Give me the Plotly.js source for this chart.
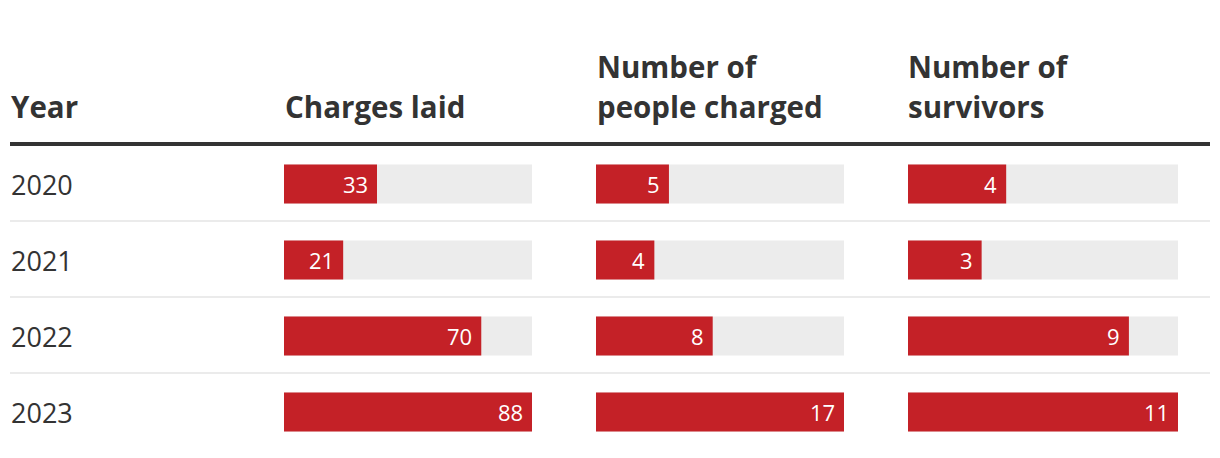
<!DOCTYPE html>
<html>
<head>
<meta charset="utf-8">
<script src="https://cdn.plot.ly/plotly-3.0.1.min.js"></script>
<style>html,body{margin:0;padding:0;background:#fff;}#chart{width:1220px;height:458px;}</style>
</head>
<body>
<div id="chart"></div>
<script>
const years = ["2020", "2021", "2022", "2023"];
const chargesLaid = [33, 21, 70, 88];
const peopleCharged = [5, 4, 8, 17];
const survivors = [4, 3, 9, 11];
const headers = [["Year"], ["Charges laid"], ["Number of", "people charged"], ["Number of", "survivors"]];

const RED = "#c42127", GRAY = "#ececec", INK = "#333333";
const FONT = "'Open Sans', 'Noto Sans', sans-serif";
const W = 1220, H = 458;
const px = v => v / W;
const py = v => 1 - v / H;

const cols = [
  {vals: chargesLaid, ax: "x", dom: [284, 532]},
  {vals: peopleCharged, ax: "x2", dom: [596, 844]},
  {vals: survivors, ax: "x3", dom: [908, 1178]}
];

const traces = [];
const annotations = [];
cols.forEach(c => {
  const mx = Math.max(...c.vals);
  traces.push({type: "bar", orientation: "h", y: years, x: years.map(() => mx),
    xaxis: c.ax, yaxis: "y", marker: {color: GRAY}, width: 0.513, hoverinfo: "skip"});
  traces.push({type: "bar", orientation: "h", y: years, x: c.vals,
    xaxis: c.ax, yaxis: "y", marker: {color: RED}, width: 0.513, hoverinfo: "skip"});
  c.vals.forEach((v, i) => annotations.push({
    xref: c.ax, yref: "y", x: v, y: i, xanchor: "right", yanchor: "middle",
    xshift: -7, yshift: 0, text: String(v), showarrow: false,
    font: {family: FONT, size: 22, color: "#ffffff"}
  }));
});

years.forEach((y, i) => annotations.push({
  xref: "paper", yref: "y", x: px(9), y: i, xanchor: "left", yanchor: "middle",
  text: y, showarrow: false, font: {family: FONT, size: 27, color: INK}
}));

const headerX = [9, 283, 595, 906];
headers.forEach((lines, k) => {
  lines.forEach((t, j) => {
    const cy = lines.length === 1 ? 107 : (j === 0 ? 67 : 106);
    annotations.push({
      xref: "paper", yref: "paper", x: px(headerX[k]), y: py(cy), xanchor: "left", yanchor: "middle",
      text: "<b>" + t + "</b>", showarrow: false, font: {family: FONT, size: 29.5, color: INK}
    });
  });
});

const shapes = [{type: "line", xref: "paper", yref: "y", x0: px(10), x1: px(1210), y0: -0.526, y1: -0.526,
  line: {color: INK, width: 4}}];
[0.487, 1.487, 2.487].forEach(y => shapes.push({type: "line", xref: "paper", yref: "y",
  x0: px(10), x1: px(1210), y0: y, y1: y, line: {color: "#ebebeb", width: 2}}));

const hidden = {showgrid: false, zeroline: false, showticklabels: false, showline: false, ticks: "", fixedrange: true};
const layout = {
  width: W, height: H, margin: {l: 0, r: 0, t: 0, b: 0},
  paper_bgcolor: "#fff", plot_bgcolor: "#fff", showlegend: false, barmode: "overlay",
  xaxis: Object.assign({domain: [px(284), px(532)], range: [0, Math.max(...chargesLaid)], anchor: "y"}, hidden),
  xaxis2: Object.assign({domain: [px(596), px(844)], range: [0, Math.max(...peopleCharged)], anchor: "y"}, hidden),
  xaxis3: Object.assign({domain: [px(908), px(1178)], range: [0, Math.max(...survivors)], anchor: "y"}, hidden),
  yaxis: Object.assign({type: "category", categoryorder: "array", categoryarray: years,
    range: [274 / 76, -184 / 76], domain: [0, 1]}, hidden),
  annotations: annotations, shapes: shapes
};
Plotly.newPlot("chart", traces, layout, {displayModeBar: false, staticPlot: true});
</script>
</body>
</html>
